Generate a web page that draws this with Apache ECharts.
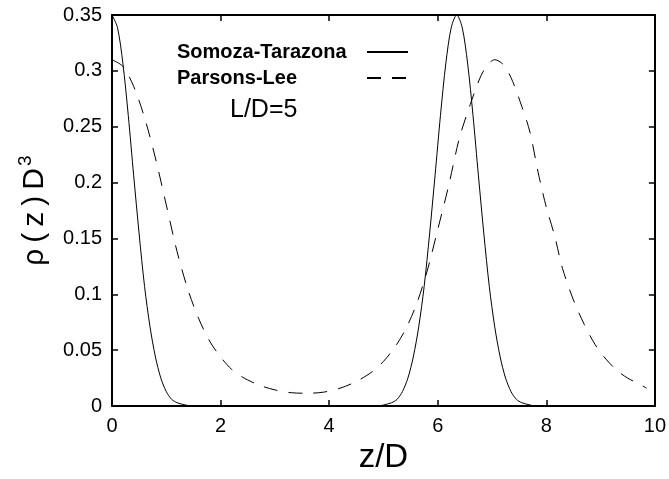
<!DOCTYPE html>
<html>
<head>
<meta charset="utf-8">
<title>rho(z) profile</title>
<script src="https://cdn.jsdelivr.net/npm/echarts@6/dist/echarts.min.js"></script>
<style>
  html, body { margin: 0; padding: 0; background: #fff; }
  #chart { width: 669px; height: 479px; }
</style>
</head>
<body>
<div id="chart"></div>
<script>
// Somoza-Tarazona (solid)
const zST = [0, 0.1, 0.2, 0.3, 0.4, 0.5, 0.6, 0.7, 0.8, 0.9, 1.0, 1.1, 1.2, 1.35, 1.5,
  3.0, 4.9, 5.0, 5.15, 5.25, 5.35, 5.45, 5.55, 5.65, 5.75, 5.85, 5.95, 6.05, 6.15, 6.25,
  6.35, 6.45, 6.55, 6.65, 6.75, 6.85, 6.95, 7.05, 7.15, 7.25, 7.35, 7.45, 7.55, 7.7, 7.8, 10];
const rhoST = [0.350, 0.339, 0.307, 0.260, 0.206, 0.154, 0.107, 0.071, 0.044, 0.025, 0.013, 0.006, 0.003, 0.001, 0,
  0, 0, 0.001, 0.003, 0.006, 0.013, 0.025, 0.044, 0.071, 0.107, 0.154, 0.206, 0.260, 0.307, 0.339,
  0.350, 0.339, 0.307, 0.260, 0.206, 0.154, 0.107, 0.071, 0.044, 0.025, 0.013, 0.006, 0.003, 0.001, 0, 0];

// Parsons-Lee (dashed)
const zPL = [0, 0.2, 0.4, 0.6, 0.8, 1.0, 1.2, 1.4, 1.6, 1.8, 2.0, 2.2, 2.4, 2.7, 3.0, 3.3, 3.6, 3.9,
  4.2, 4.5, 4.8, 5.0, 5.2, 5.4, 5.6, 5.8, 6.0, 6.2, 6.4, 6.6, 6.8, 6.95, 7.05, 7.2, 7.35, 7.55,
  7.7, 7.85, 8.0, 8.15, 8.3, 8.5, 8.7, 8.9, 9.1, 9.3, 9.5, 9.7, 9.85];
const rhoPL = [0.310, 0.304, 0.286, 0.258, 0.222, 0.180, 0.138, 0.104, 0.078, 0.058, 0.044, 0.033, 0.026, 0.019, 0.0145, 0.012, 0.0115, 0.0125,
  0.016, 0.022, 0.031, 0.040, 0.052, 0.068, 0.090, 0.120, 0.158, 0.197, 0.240, 0.270, 0.296, 0.307, 0.310, 0.306, 0.294, 0.268,
  0.245, 0.209, 0.178, 0.153, 0.123, 0.095, 0.073, 0.055, 0.042, 0.032, 0.025, 0.020, 0.016];

const seriesNames = ['Somoza-Tarazona', 'Parsons-Lee'];

const font = 'Liberation Sans, Arial, sans-serif';
const black = '#000';
const thin = '\u2009';

const zip = (xs, ys) => xs.map((x, i) => [x, ys[i]]);

const frameAxis = {
  type: 'value',
  axisLine: { show: true, onZero: false, lineStyle: { color: black, width: 2 } },
  axisTick: { show: true, inside: true, length: 6, lineStyle: { color: black, width: 1.5 } },
  splitLine: { show: false },
};

const chart = echarts.init(document.getElementById('chart'), null, { renderer: 'canvas' });

chart.setOption({
  animation: false,
  backgroundColor: '#fff',
  textStyle: { fontFamily: font, color: black },
  grid: { left: 112, right: 9, top: 15, bottom: 66, containLabel: false },
  title: {
    text: 'L/D=5',
    left: 230,
    top: 98,
    padding: 0,
    textStyle: { fontFamily: font, fontSize: 25, fontWeight: 'normal', color: black, lineHeight: 25 },
  },
  legend: {
    orient: 'vertical',
    left: 177,
    top: 42,
    align: 'right',
    itemWidth: 41,
    itemHeight: 14,
    itemGap: 6,
    padding: 0,
    data: seriesNames,
    itemStyle: { opacity: 0 },
    formatter: name => '{t|' + name + '}',
    textStyle: {
      rich: {
        t: {
          width: 185,
          align: 'left',
          fontFamily: font,
          fontSize: 20,
          fontWeight: 'bold',
          color: black,
          lineHeight: 20,
        },
      },
    },
  },
  xAxis: [
    Object.assign({}, frameAxis, {
      position: 'bottom',
      min: 0,
      max: 10,
      interval: 2,
      name: 'z/D',
      nameLocation: 'middle',
      nameGap: 26,
      nameTextStyle: { fontFamily: font, fontSize: 33, color: black },
      axisLabel: { margin: 10, fontFamily: font, fontSize: 20, color: black },
    }),
    Object.assign({}, frameAxis, {
      position: 'top',
      min: 0,
      max: 10,
      interval: 2,
      axisLabel: { show: false },
    }),
  ],
  yAxis: [
    Object.assign({}, frameAxis, {
      position: 'left',
      min: 0,
      max: 0.35,
      interval: 0.05,
      name: '{m|ρ' + thin + '(' + thin + 'z' + thin + ')' + thin + 'D}{s|3}',
      nameLocation: 'middle',
      nameRotate: 90,
      nameGap: 62,
      nameTextStyle: {
        rich: {
          m: { fontFamily: font, fontSize: 30, color: black, lineHeight: 34, verticalAlign: 'bottom' },
          s: { fontFamily: font, fontSize: 19, color: black, lineHeight: 19, verticalAlign: 'top', padding: [0, 0, 0, 2] },
        },
      },
      axisLabel: { margin: 10, fontFamily: font, fontSize: 20, color: black },
    }),
    Object.assign({}, frameAxis, {
      position: 'right',
      min: 0,
      max: 0.35,
      interval: 0.05,
      axisLabel: { show: false },
    }),
  ],
  series: [
    {
      name: seriesNames[0],
      type: 'line',
      data: zip(zST, rhoST),
      symbol: 'none',
      smooth: 0.3,
      lineStyle: { color: black, width: 1 },
      itemStyle: { color: black },
    },
    {
      name: seriesNames[1],
      type: 'line',
      data: zip(zPL, rhoPL),
      symbol: 'none',
      smooth: 0.3,
      lineStyle: { color: black, width: 1, type: [14, 11] },
      itemStyle: { color: black },
    },
  ],
});
</script>
</body>
</html>
